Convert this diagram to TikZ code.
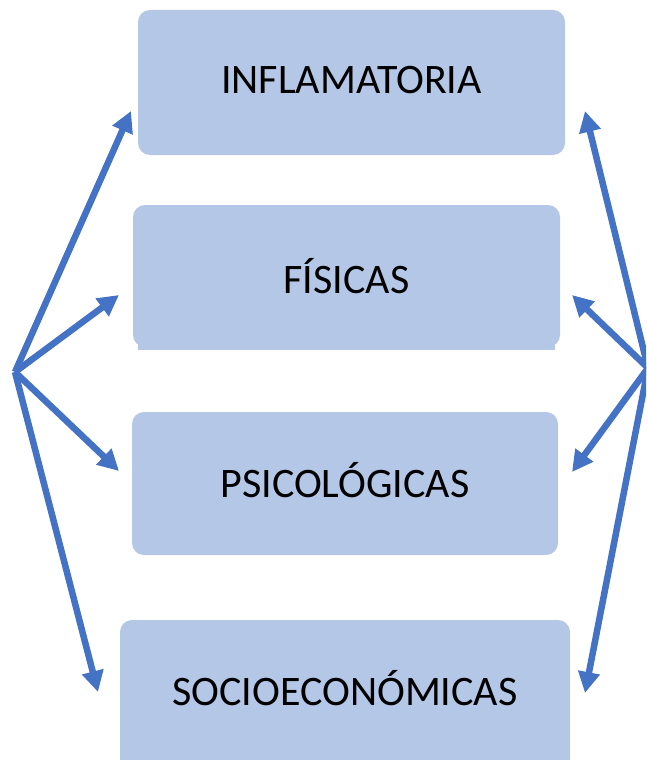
\documentclass[tikz,border=0pt]{standalone}
\usepackage{fontspec}
\setmainfont{Carlito}
\usetikzlibrary{arrows.meta}
\definecolor{boxfill}{HTML}{B4C7E7}
\definecolor{arrowblue}{HTML}{4472C4}
\begin{document}
\begin{tikzpicture}[x=1pt,y=-1pt,
  catbox/.style={fill=boxfill,rounded corners=12pt},
  label/.style={font=\fontsize{42}{50}\selectfont},
  link/.style={draw=arrowblue,line width=6.5pt,-{Triangle[length=21pt,width=21pt]}}]
\useasboundingbox (0,0) rectangle (646,760);
\clip (0,0) rectangle (646,760);
\path[catbox] (138,10) rectangle (565,155);
\node[label] (inf) at (351.5,80) {INFLAMATORIA};
\path[catbox] (133,205) rectangle (560,347);
\fill[boxfill] (138,335) rectangle (555,350);
\node[label] (fis) at (346.5,276) {FÍSICAS};
\path[catbox] (132,412) rectangle (558,555);
\node[label] (psi) at (345,480) {PSICOLÓGICAS};
\path[catbox] (120,620) rectangle (570,790);
\node[label] (soc) at (345,688) {SOCIOECONÓMICAS};
\coordinate (L) at (15,372);
\coordinate (R) at (648,368);
\coordinate (l1) at (131,111);
\coordinate (l2) at (119,295);
\coordinate (l3) at (119,471);
\coordinate (l4) at (98,692);
\coordinate (r1) at (585,111);
\coordinate (r2) at (572,295);
\coordinate (r3) at (572,472);
\coordinate (r4) at (585,693);
\foreach \t in {l1,l2,l3,l4} \draw[link] (L) -- (\t);
\foreach \t in {r1,r2,r3,r4} \draw[link] (R) -- (\t);
\end{tikzpicture}
\end{document}
